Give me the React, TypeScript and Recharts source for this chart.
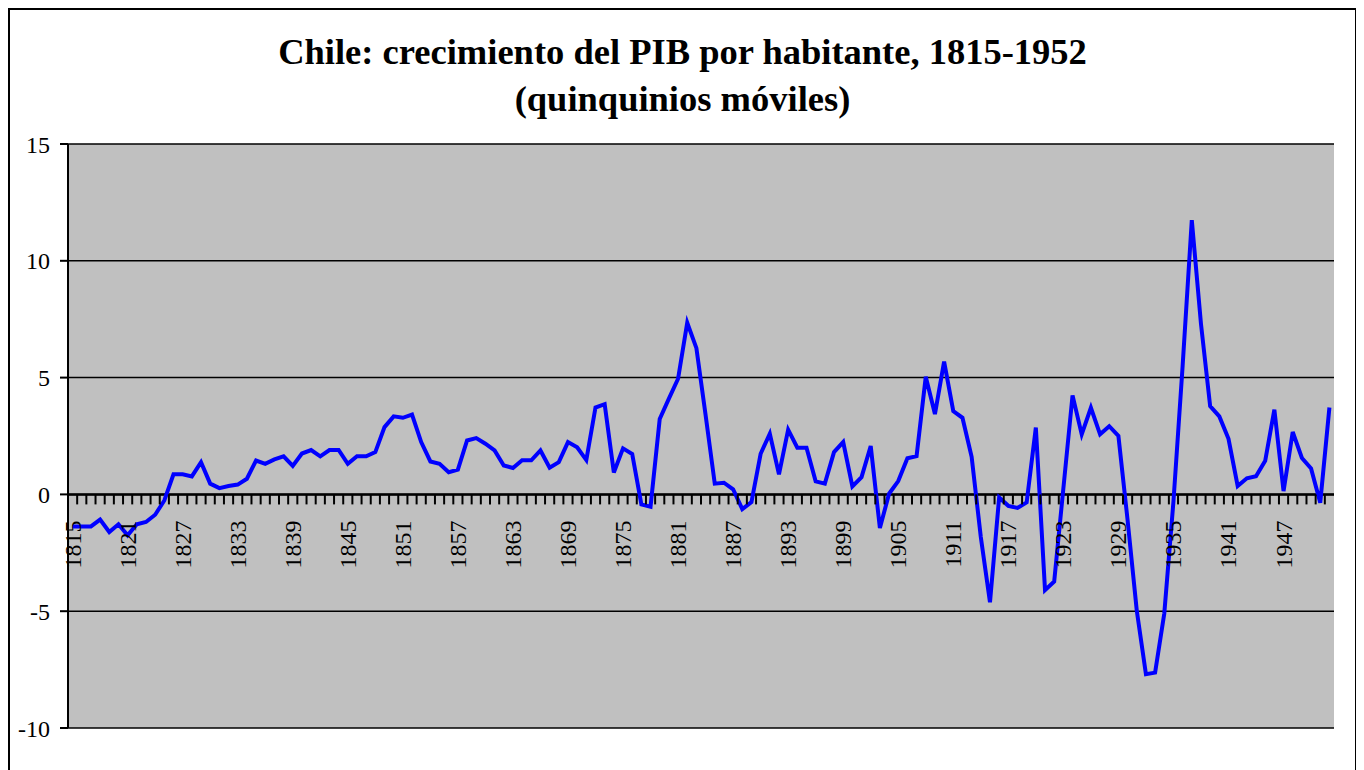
import { LineChart, Line, XAxis, YAxis, CartesianGrid, ReferenceLine } from "recharts";

const years: number[] = [];
for (let y = 1815; y <= 1952; y++) years.push(y);

const growth = [
  -1.37, -1.37, -1.37, -1.08, -1.61, -1.28, -1.75, -1.28, -1.18, -0.87,
  -0.26, 0.86, 0.86, 0.77, 1.38, 0.46, 0.27, 0.36, 0.42, 0.67,
  1.45, 1.31, 1.5, 1.63, 1.22, 1.75, 1.9, 1.63, 1.9, 1.9,
  1.31, 1.63, 1.63, 1.81, 2.88, 3.34, 3.28, 3.42, 2.24, 1.41,
  1.31, 0.95, 1.06, 2.31, 2.41, 2.17, 1.88, 1.24, 1.13, 1.46,
  1.46, 1.88, 1.14, 1.38, 2.24, 2.02, 1.47, 3.72, 3.86, 0.94,
  1.97, 1.73, -0.43, -0.53, 3.23, 4.1, 4.95, 7.35, 6.26, 3.4,
  0.46, 0.5, 0.22, -0.63, -0.33, 1.74, 2.6, 0.86, 2.77, 2.0,
  2.0, 0.56, 0.46, 1.81, 2.24, 0.34, 0.74, 2.07, -1.44, 0.03,
  0.57, 1.55, 1.64, 5.04, 3.44, 5.68, 3.57, 3.28, 1.61, -1.82,
  -4.62, -0.13, -0.49, -0.58, -0.34, 2.86, -4.1, -3.73, 0.26, 4.24,
  2.57, 3.71, 2.57, 2.92, 2.5, -1.1, -4.97, -7.7, -7.63, -5.1,
  -0.3, 5.5, 11.74, 7.3, 3.78, 3.34, 2.38, 0.36, 0.69, 0.78,
  1.44, 3.63, 0.14, 2.67, 1.56, 1.11, -0.36, 3.72,
];

const yTicks = [-10, -5, 0, 5, 10, 15];

const data = years.map((year, i) => ({ year, value: growth[i] }));

const W = 1345;
const H = 768;
const M = { top: 134, right: 21, bottom: 20, left: 0 };
const Y_AXIS_W = 58;
const X_AXIS_H = 30;
const plotLeft = M.left + Y_AXIS_W;
const plotW = W - M.right - plotLeft;
const plotTop = M.top;
const plotH = H - M.top - M.bottom - X_AXIS_H;
const zeroY = plotTop + (plotH * 15) / 25;
const band = plotW / years.length;
const serif = "'Liberation Serif', 'Times New Roman', serif";

const YearTick = (props: any) => {
  const { x, payload } = props;
  const year = payload.value as number;
  const idx = year - 1815;
  const showTick = idx < years.length - 1;
  return (
    <g>
      {showTick && (
        <line x1={x + band / 2} x2={x + band / 2} y1={zeroY} y2={zeroY + 10} stroke="#000" strokeWidth={2} />
      )}
      {idx % 6 === 0 && (
        <text
          x={x}
          y={zeroY + 26}
          transform={`rotate(-90 ${x} ${zeroY + 26})`}
          textAnchor="end"
          dominantBaseline="central"
          fontSize={24}
          fontFamily={serif}
          fill="#000"
        >
          {year}
        </text>
      )}
    </g>
  );
};

export default function App() {
  return (
    <div style={{ position: "relative", width: W, height: H, border: "2px solid #000", background: "#fff" }}>
      <div
        style={{
          position: "absolute",
          top: 18,
          left: 0,
          width: "100%",
          textAlign: "center",
          fontFamily: serif,
          fontWeight: "bold",
          fontSize: 36.5,
          lineHeight: "47px",
          color: "#000",
        }}
      >
        Chile: crecimiento del PIB por habitante, 1815-1952
        <br />
        (quinquinios móviles)
      </div>
      <LineChart width={W} height={H} data={data} margin={M}>
        <CartesianGrid vertical={false} stroke="#000" strokeWidth={1.5} fill="#C0C0C0" fillOpacity={1} />
        <XAxis
          dataKey="year"
          type="category"
          interval={0}
          height={X_AXIS_H}
          padding={{ left: band / 2, right: band / 2 }}
          axisLine={false}
          tickLine={false}
          tick={<YearTick />}
        />
        <YAxis
          domain={[-10, 15]}
          ticks={yTicks}
          width={Y_AXIS_W}
          axisLine={{ stroke: "#000", strokeWidth: 2 }}
          tickLine={{ stroke: "#000", strokeWidth: 2 }}
          tickSize={8}
          tickMargin={10}
          tick={{ fill: "#000", fontSize: 24, fontFamily: serif }}
        />
        <YAxis
          yAxisId="r"
          orientation="right"
          domain={[-10, 15]}
          ticks={yTicks}
          width={0}
          tick={false}
          tickLine={false}
          axisLine={{ stroke: "#000", strokeWidth: 2 }}
        />
        <ReferenceLine y={0} stroke="#000" strokeWidth={2.5} />
        <Line
          type="linear"
          dataKey="value"
          stroke="#0000FF"
          strokeWidth={4}
          dot={false}
          isAnimationActive={false}
        />
      </LineChart>
    </div>
  );
}
